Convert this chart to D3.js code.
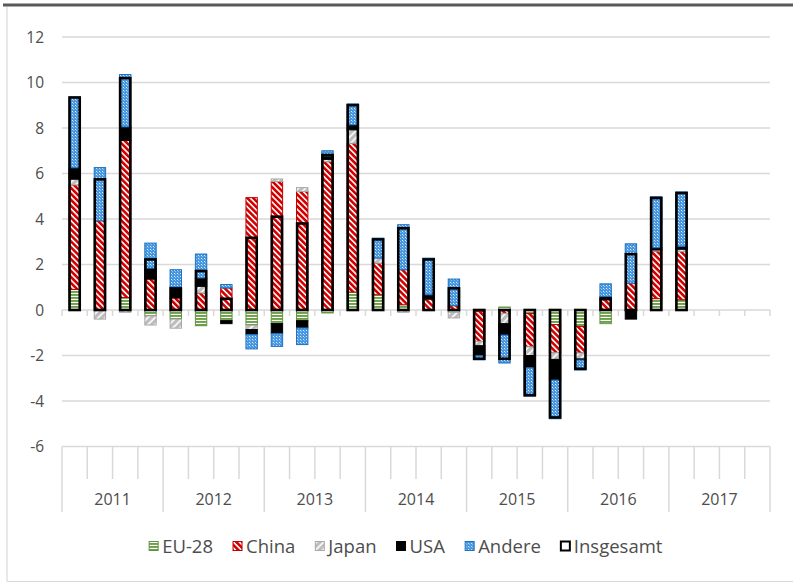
<!DOCTYPE html>
<html>
<head>
<meta charset="utf-8">
<script src="https://cdn.jsdelivr.net/npm/d3@7"></script>
<style>
  html, body { margin: 0; padding: 0; background: #fff; }
  svg { display: block; font-family: "Open Sans", "Noto Sans", sans-serif; }
</style>
</head>
<body>
<svg id="chart" width="793" height="583"></svg>
<script>
// ---- Data ----
const years = ["2011", "2012", "2013", "2014", "2015", "2016", "2017"];
const quarterNames = ["Q1", "Q2", "Q3", "Q4"];
const seriesNames = ["EU-28", "China", "Japan", "USA", "Andere"];
const totalName = "Insgesamt";

const eu28   = [0.9, 0, 0.55, -0.26, -0.4, -0.69, -0.47, -0.67, -0.6, -0.47, -0.13, 0.79, 0.67, 0.23, 0, -0.1, -0.06, 0.13, -0.16, -0.64, -0.72, -0.6, 0, 0.5, 0.45];
const china  = [4.6, 3.92, 6.9, 1.36, 0.53, 0.75, 0.97, 4.94, 5.65, 5.21, 6.52, 6.54, 1.39, 1.54, 0.48, 0.19, -1.32, -0.15, -1.46, -1.24, -1.17, 0.45, 1.18, 2.09, 2.12];
const japan  = [0.25, -0.4, -0.1, -0.4, -0.4, 0.29, 0, -0.19, 0.11, 0.17, 0.1, 0.59, 0.22, -0.1, 0, -0.25, -0.19, -0.45, -0.38, -0.29, -0.26, 0, 0, 0.05, 0.1];
const usa    = [0.5, 0, 0.6, 0.48, 0.48, 0.37, -0.13, -0.22, -0.44, -0.32, 0.15, 0.22, 0, 0, 0.19, 0, -0.44, -0.5, -0.54, -0.91, -0.05, 0.14, -0.4, 0.1, 0.12];
const andere = [3.1, 2.34, 2.3, 1.1, 0.76, 1.05, 0.15, -0.63, -0.56, -0.73, 0.23, 0.92, 0.88, 1.98, 1.61, 1.17, -0.18, -1.23, -1.25, -1.7, -0.44, 0.56, 1.73, 2.24, 2.4];
const insgesamt = [9.4, 5.8, 10.25, 2.28, 1.0, 1.77, 0.55, 3.23, 4.16, 3.86, 6.87, 9.06, 3.16, 3.65, 2.28, 1.01, -2.2, -2.2, -3.8, -4.78, -2.64, 0.55, 2.51, 4.98, 5.2];
const yTicks = [-6, -4, -2, 0, 2, 4, 6, 8, 10, 12];

// ---- Setup ----
const svg = d3.select("#chart");
const W = 793, H = 583;
const plot = { left: 62, right: 770, top: 37, bottom: 446.5 };
const textColor = "#4d4d4d";
const gridColor = "#d9d9d9";

const categories = [];
years.forEach(y => quarterNames.forEach(q => categories.push(y + "-" + q)));

const seriesValues = [eu28, china, japan, usa, andere];
const rows = insgesamt.map((t, i) => {
  const r = { cat: categories[i], total: t };
  seriesNames.forEach((s, k) => r[s] = seriesValues[k][i]);
  return r;
});

const x = d3.scaleBand().domain(categories).range([plot.left, plot.right])
  .paddingInner(0.51).paddingOuter(0.255);
const y = d3.scaleLinear().domain([-6, 12]).range([plot.bottom, plot.top]);
const step = x.step();

// ---- Patterns ----
const defs = svg.append("defs");
const colors = {
  "EU-28":  { fill: "#6c9f47", stroke: "#5f9140" },
  "China":  { fill: "#d40000", stroke: "#c00000" },
  "Japan":  { fill: "#bdbdbd", stroke: "#a8a8a8" },
  "USA":    { fill: "#000000", stroke: "#000000" },
  "Andere": { fill: "#4696e0", stroke: "#1b72c2" }
};
// EU-28: horizontal stripes
let p = defs.append("pattern").attr("id", "pat-EU-28").attr("patternUnits", "userSpaceOnUse")
  .attr("width", 4).attr("height", 3);
p.append("rect").attr("width", 4).attr("height", 3).attr("fill", "#fff");
p.append("rect").attr("width", 4).attr("height", 1.9).attr("fill", colors["EU-28"].fill);
// China: downward diagonal
p = defs.append("pattern").attr("id", "pat-China").attr("patternUnits", "userSpaceOnUse")
  .attr("width", 4.2).attr("height", 4.2).attr("patternTransform", "rotate(-45)");
p.append("rect").attr("width", 4.2).attr("height", 4.2).attr("fill", "#fff");
p.append("rect").attr("width", 2.6).attr("height", 4.2).attr("fill", colors["China"].fill);
// Japan: upward diagonal
p = defs.append("pattern").attr("id", "pat-Japan").attr("patternUnits", "userSpaceOnUse")
  .attr("width", 5).attr("height", 5).attr("patternTransform", "rotate(45)");
p.append("rect").attr("width", 5).attr("height", 5).attr("fill", "#fff");
p.append("rect").attr("width", 3.4).attr("height", 5).attr("fill", colors["Japan"].fill);
// USA: solid
p = defs.append("pattern").attr("id", "pat-USA").attr("patternUnits", "userSpaceOnUse")
  .attr("width", 4).attr("height", 4);
p.append("rect").attr("width", 4).attr("height", 4).attr("fill", "#000");
// Andere: dotted grid (light dots on blue)
p = defs.append("pattern").attr("id", "pat-Andere").attr("patternUnits", "userSpaceOnUse")
  .attr("width", 3).attr("height", 3);
p.append("rect").attr("width", 3).attr("height", 3).attr("fill", colors["Andere"].fill);
p.append("rect").attr("width", 1).attr("height", 1).attr("fill", "#dcecfb");
p.append("rect").attr("x", 1).attr("y", 1).attr("width", 1).attr("height", 1).attr("fill", "#8fc0ee");

// ---- Frame ----
svg.append("line").attr("x1", 7).attr("x2", 7).attr("y1", 7).attr("y2", 581.5)
  .attr("stroke", gridColor).attr("stroke-width", 1.2);
svg.append("line").attr("x1", 7).attr("x2", W).attr("y1", 581.5).attr("y2", 581.5)
  .attr("stroke", gridColor).attr("stroke-width", 1.2);
svg.append("line").attr("x1", 3).attr("x2", W).attr("y1", 5).attr("y2", 5)
  .attr("stroke", "#595959").attr("stroke-width", 3);

// ---- Gridlines ----
svg.append("g").selectAll("line").data(yTicks).join("line")
  .attr("x1", plot.left).attr("x2", plot.right)
  .attr("y1", d => y(d)).attr("y2", d => y(d))
  .attr("stroke", gridColor).attr("stroke-width", 1.5);

// y tick labels
svg.append("g").selectAll("text").data(yTicks).join("text")
  .attr("x", 44).attr("y", d => y(d)).attr("dy", "0.36em")
  .attr("text-anchor", "end").attr("fill", textColor)
  .attr("font-size", "15.5px").attr("font-weight", 500).text(d => d);

// zero-line ticks at quarter boundaries
const boundaries = d3.range(categories.length + 1).map(k => plot.left + k * step);
svg.append("g").selectAll("line").data(boundaries).join("line")
  .attr("x1", d => d).attr("x2", d => d)
  .attr("y1", y(0)).attr("y2", y(0) + 6)
  .attr("stroke", gridColor).attr("stroke-width", 1.5);

// bottom category box
svg.append("g").selectAll("line").data(boundaries).join("line")
  .attr("x1", d => d).attr("x2", d => d)
  .attr("y1", plot.bottom).attr("y2", (d, k) => (k % 4 === 0) ? 512 : 479)
  .attr("stroke", gridColor).attr("stroke-width", 1.5);

svg.append("g").selectAll("text").data(years).join("text")
  .attr("x", d => (x(d + "-Q1") + x(d + "-Q4") + x.bandwidth()) / 2)
  .attr("y", 499).attr("dy", "0.36em")
  .attr("text-anchor", "middle").attr("fill", textColor)
  .attr("font-size", "16px").attr("font-weight", 500).text(d => d);

// ---- Stacked bars ----
const stack = d3.stack().keys(seriesNames).offset(d3.stackOffsetDiverging);
const stacked = stack(rows);
const bw = x.bandwidth();

const gBars = svg.append("g");
stacked.forEach(layer => {
  const name = layer.key;
  gBars.append("g").selectAll("rect").data(layer.filter(d => Math.abs(d[1] - d[0]) > 1e-9)).join("rect")
    .attr("x", d => x(d.data.cat) + 0.5)
    .attr("width", bw - 1)
    .attr("y", d => y(Math.max(d[0], d[1])))
    .attr("height", d => Math.abs(y(d[0]) - y(d[1])))
    .attr("fill", `url(#pat-${name})`)
    .attr("stroke", colors[name].stroke)
    .attr("stroke-width", 1);
});

// Insgesamt outline
const sw = 2.6;
svg.append("g").selectAll("rect").data(rows).join("rect")
  .attr("x", d => x(d.cat) + sw / 2 - 0.2)
  .attr("width", bw - sw + 0.4)
  .attr("y", d => y(Math.max(0, d.total)) + (d.total > 0 ? sw / 2 : 0))
  .attr("height", d => Math.max(0, Math.abs(y(d.total) - y(0)) - sw / 2))
  .attr("fill", "none").attr("stroke", "#000").attr("stroke-width", sw);

// ---- Legend ----
const legendItems = seriesNames.concat([totalName]);
const legend = svg.append("g");
const ly = 546;
const items = legend.selectAll("g").data(legendItems).join("g");
items.append("rect")
  .attr("x", 0).attr("y", ly - 4.5).attr("width", 9).attr("height", 9)
  .attr("fill", d => d === totalName ? "#fff" : `url(#pat-${d})`)
  .attr("stroke", d => d === totalName ? "#000" : colors[d].stroke)
  .attr("stroke-width", d => d === totalName ? 2 : 1);
items.append("text")
  .attr("x", 13).attr("y", ly).attr("dy", "0.36em")
  .attr("fill", textColor).attr("font-size", "18.5px").attr("font-weight", 500).text(d => d);
const widths = [];
items.each(function() { widths.push(this.getBBox().width); });
const gap = 20;
const totalW = d3.sum(widths) + gap * (widths.length - 1);
let cx = 406 - totalW / 2;
items.each(function(d, i) {
  d3.select(this).attr("transform", `translate(${cx},0)`);
  cx += widths[i] + gap;
});
</script>
</body>
</html>
